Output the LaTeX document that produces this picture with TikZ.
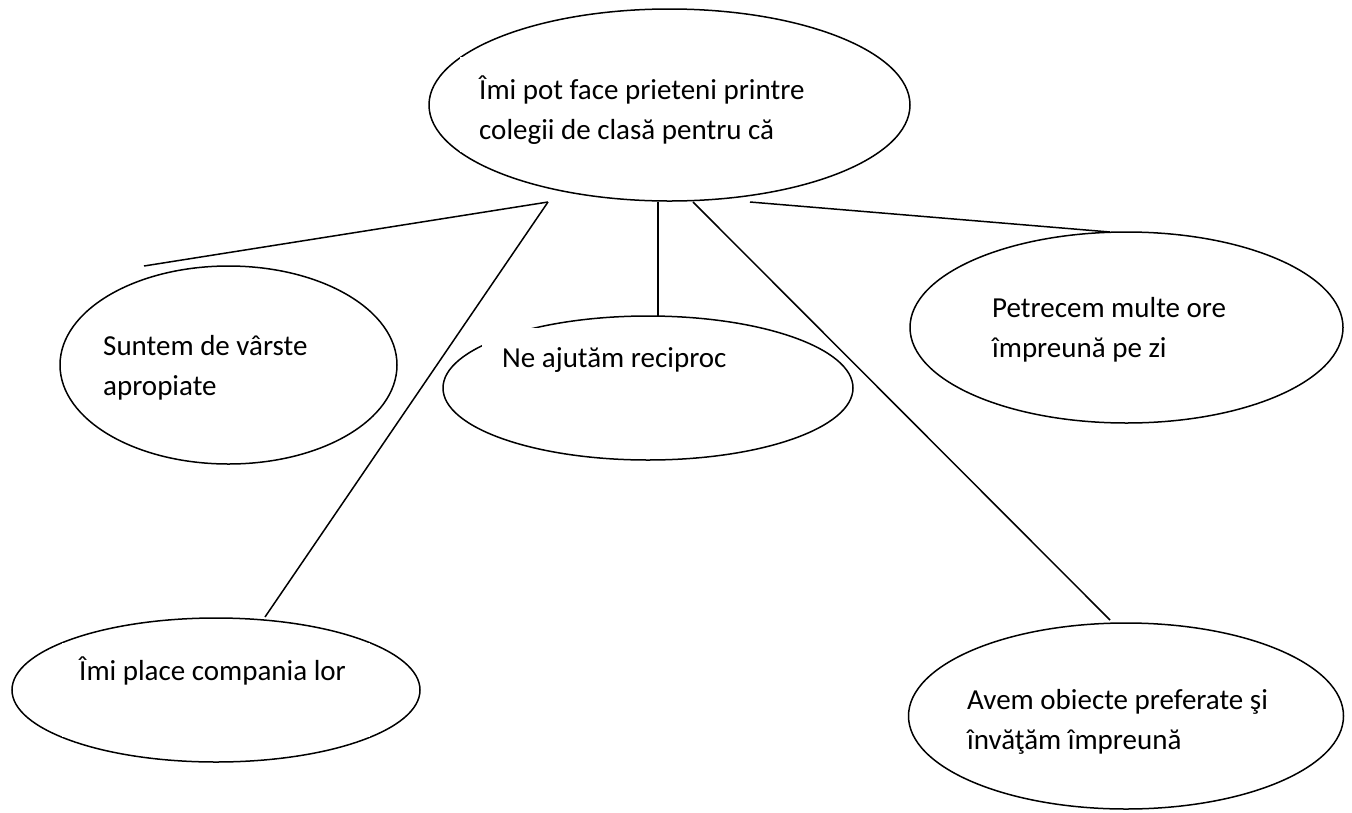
\documentclass[tikz,border=0pt]{standalone}
\usepackage{fontspec}
\setmainfont{Carlito}
\usetikzlibrary{shapes.geometric}
\tikzset{
  bubble/.style={draw=black, line width=1.5pt, ellipse, inner sep=0pt},
  label/.style={anchor=base west, align=left, inner sep=0pt, font=\fontsize{29pt}{40pt}\selectfont},
  mask/.style={fill=white, draw=none},
  link/.style={draw=black, line width=1.5pt}
}
\begin{document}
\begin{tikzpicture}[x=1pt,y=-1pt]
\useasboundingbox (0,0) rectangle (1352,812);
% ellipses
\node[bubble, minimum width=481pt, minimum height=192pt] (top) at (669.5,105) {};
\node[bubble, minimum width=337pt, minimum height=198pt] (age) at (228.5,365) {};
\node[bubble, minimum width=410pt, minimum height=144pt] (help) at (648,388) {};
\node[bubble, minimum width=433pt, minimum height=191pt] (hours) at (1126.5,327.5) {};
\node[bubble, minimum width=408pt, minimum height=144pt] (company) at (216,690) {};
\node[bubble, minimum width=435pt, minimum height=186pt] (subjects) at (1126,716) {};
% white text boxes that cover parts of the outlines
\path[mask] (460,57) rectangle (850,152);
\path[mask] (482,328) rectangle (750,400);
\path[mask] (62,643) rectangle (370,737);
% texts
\node[label] (ttop) at (479,139) {Îmi pot face prieteni printre\\colegii de clasă pentru că};
\node[label] (tage) at (103,395) {Suntem de vârste\\apropiate};
\node[label] (thelp) at (502,367) {Ne ajutăm reciproc};
\node[label] (thours) at (992,357) {Petrecem multe ore\\împreună pe zi};
\node[label] (tcompany) at (79,680) {Îmi place compania lor};
\node[label] (tsubjects) at (967,749) {Avem obiecte preferate şi\\învăţăm împreună};
% connector end points
\coordinate (a1) at (548,202);
\coordinate (a2) at (658,202);
\coordinate (a3) at (693,202);
\coordinate (a4) at (750,202);
\coordinate (b1) at (144,266);
\coordinate (b2) at (265,617);
\coordinate (b3) at (658,316);
\coordinate (b4) at (1110,620);
\coordinate (b5) at (1110,232);
% connectors
\draw[link] (a1) -- (b1);
\draw[link] (a1) -- (b2);
\draw[link] (a2) -- (b3);
\draw[link] (a3) -- (b4);
\draw[link] (a4) -- (b5);
\end{tikzpicture}
\end{document}
